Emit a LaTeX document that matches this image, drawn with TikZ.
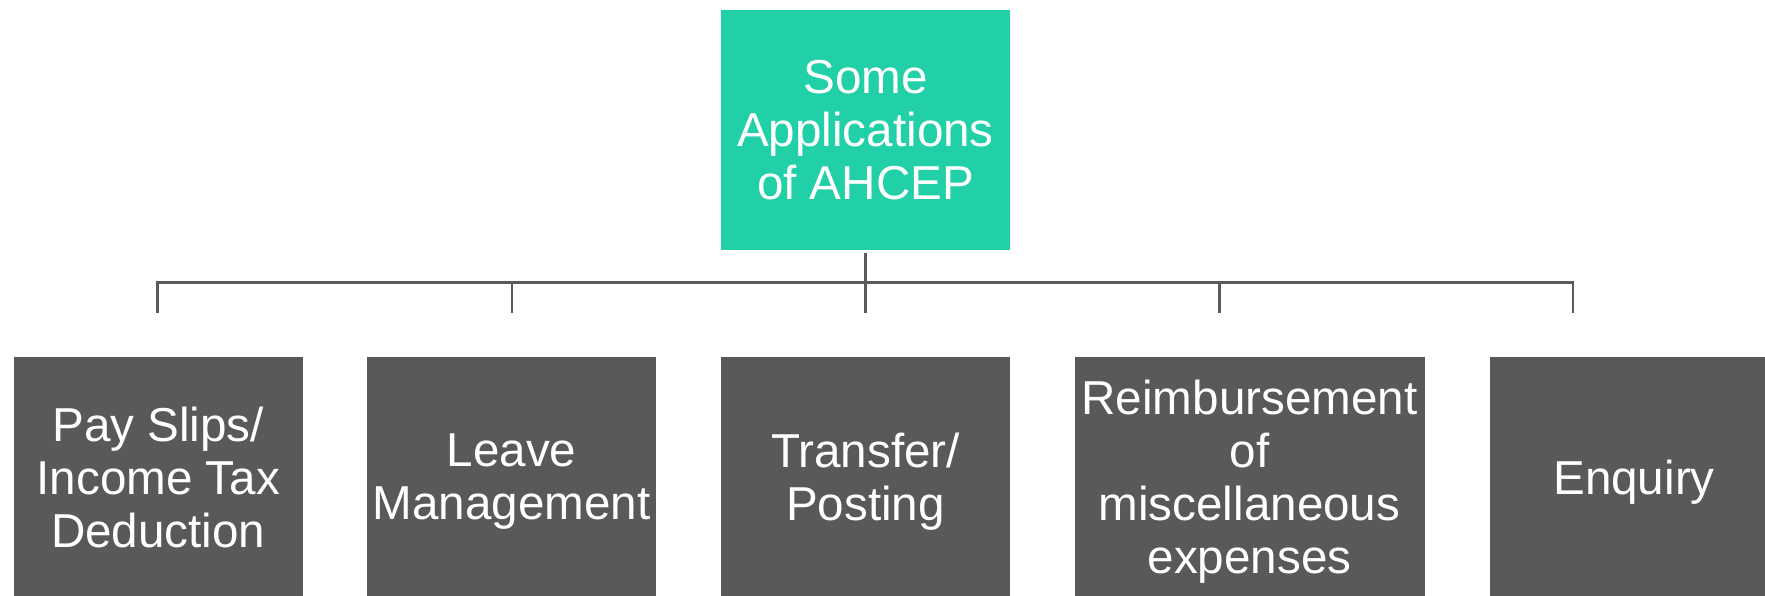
\documentclass[tikz,border=0pt]{standalone}
\usepackage{fontspec}
\setmainfont{Liberation Sans}
\definecolor{rootfill}{HTML}{21D0A7}
\definecolor{leaffill}{HTML}{595959}
\definecolor{connclr}{HTML}{5A5A5A}
\begin{document}
\begin{tikzpicture}[x=1pt,y=-1pt,
  basebox/.style={rectangle, inner sep=0pt, draw=white, line width=0.8pt,
    minimum width=290pt, minimum height=241pt, text=white, align=center,
    text depth=0pt, font=\fontsize{47.6}{53}\selectfont},
  rootbox/.style={basebox, fill=rootfill},
  leafbox/.style={basebox, fill=leaffill},
  connline/.style={draw=connclr, line width=2.6pt}]
\clip (0,0) rectangle (1765,595);
\fill[white] (0,0) rectangle (1765,595);

\node[rootbox] (root) at (865.5,129.5) {Some\\Applications\\of AHCEP};

\node[leafbox] (c1) at (158.2,477) {Pay Slips/\\Income Tax\\Deduction};
\node[leafbox] (c2) at (511.5,477) {Leave\\Management};
\node[leafbox] (c3) at (865.5,477) {Transfer/\\Posting};
\node[leafbox, minimum width=351pt] (c4) at (1249.5,477) {Reimbursement\\of\\miscellaneous\\expenses};
\node[leafbox] (c5) at (1634,477) {Enquiry};

\coordinate (bar) at (865.5,282.5);
\coordinate (e1) at (157.6,313);
\coordinate (e2) at (511.8,313);
\coordinate (e3) at (865.5,313);
\coordinate (e4) at (1219.2,313);
\coordinate (e5) at (1572.8,313);

\draw[connline] ([yshift=-3pt]root.south) -- (e3);
\draw[connline] (e1) -- (e1 |- bar) -- (e5 |- bar) -- (e5);
\draw[connline] (e2) -- (e2 |- bar);
\draw[connline] (e4) -- (e4 |- bar);
\end{tikzpicture}
\end{document}
